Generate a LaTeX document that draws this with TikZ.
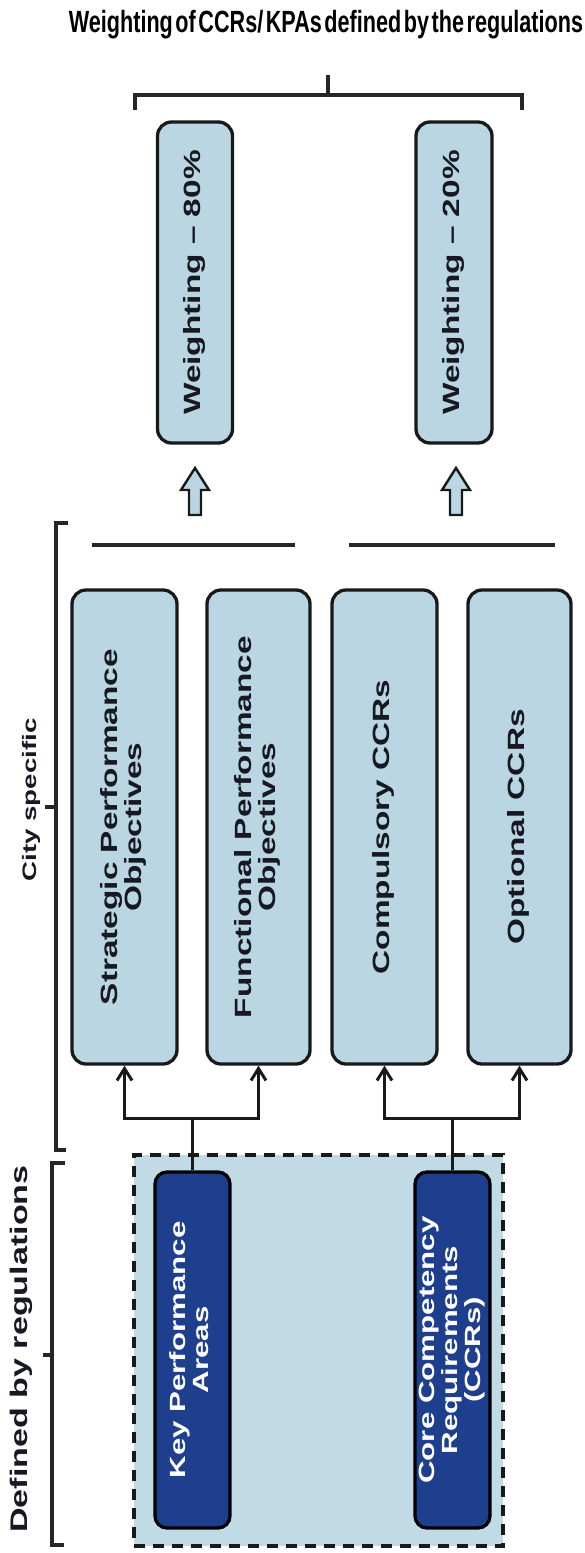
\documentclass[tikz,border=0pt]{standalone}
\usepackage{fontspec}
\setmainfont{Liberation Sans}
\usepackage{graphicx}
\usetikzlibrary{arrows.meta}

\definecolor{boxblue}{RGB}{185,214,226}
\definecolor{regblue}{RGB}{192,219,229}
\definecolor{navyfill}{RGB}{30,62,142}
\definecolor{inkdark}{RGB}{22,24,34}

% text set upright along the column, stretched along its reading direction
\newcommand{\sidetext}[1]{\rotatebox{90}{\scalebox{1.42}[1]{\begin{tabular}{@{}c@{}}#1\end{tabular}}}}

\tikzset{
  lightbox/.style={draw=black!90, line width=3.3pt, rounded corners=14pt, fill=boxblue,
    inner sep=0pt, text=inkdark, font=\fontsize{23.5}{23}\selectfont\bfseries},
  darkbox/.style={draw=black, line width=3.3pt, rounded corners=12pt, fill=navyfill,
    inner sep=0pt, text=white, font=\fontsize{22}{23}\selectfont\bfseries},
  regbox/.style={draw=black!90, line width=4.2pt, dash pattern=on 11pt off 8pt, fill=regblue,
    inner sep=0pt},
  bracketline/.style={line width=3.3pt, draw=black!85},
  barline/.style={line width=4pt, draw=black!85},
  conn/.style={line width=3pt, draw=black!90},
  tipped/.style={-{Straight Barb[length=12pt,width=15pt]}},
  hollow/.style={draw=black!90, line width=2.4pt, fill=boxblue, line join=miter},
  sidelabel/.style={inner sep=0pt, text=inkdark},
  titletext/.style={inner sep=0pt, text=black, font=\fontsize{21.6}{24}\selectfont\bfseries}
}

\begin{document}
\begin{tikzpicture}[x=1pt, y=-1pt]
\useasboundingbox (0,0) rectangle (585,1553);

% heading and its brace
\node[titletext, anchor=base] (title) at (326,32)
  {\scalebox{1}[1.42]{\spaceskip=0.12em Weighting of CCRs/ KPAs defined by the regulations}};
\draw[bracketline] (135,110) -- (135,95) -- (522,95) -- (522,110)
                   (328,95) -- (328,75);

% weightings
\node[lightbox, minimum width=75pt, minimum height=321pt] (w80) at (195,282.5) {\sidetext{Weighting – 80\%}};
\node[lightbox, minimum width=76pt, minimum height=321pt] (w20) at (454,282.5) {\sidetext{Weighting – 20\%}};

% hollow block arrows
\draw[hollow] (189,515) -- (189,490) -- (181,490) -- (195,468) -- (209,490) -- (201,490) -- (201,515) -- cycle;
\draw[hollow] (450,515) -- (450,490) -- (442,490) -- (456,468) -- (470,490) -- (462,490) -- (462,515) -- cycle;

% group bars
\draw[barline] (92,545) -- (295,545);
\draw[barline] (349,545) -- (555,545);

% city specific brace and label
\draw[bracketline] (68,523) -- (56,523) -- (56,1150) -- (66,1150)
                   (56,807) -- (45,807);
\node[sidelabel, font=\fontsize{19.5}{22}\selectfont\bfseries] (city) at (32,800) {\sidetext{City specific}};

% city specific objectives and requirements
\node[lightbox, minimum width=105pt, minimum height=474pt] (sp) at (124.5,827) {\sidetext{Strategic Performance\\Objectives}};
\node[lightbox, minimum width=103pt, minimum height=474pt] (fp) at (258.5,827) {\sidetext{Functional Performance\\Objectives}};
\node[lightbox, minimum width=105pt, minimum height=474pt] (cc) at (384.5,827) {\sidetext{Compulsory CCRs}};
\node[lightbox, minimum width=103pt, minimum height=474pt] (oc) at (519.5,827) {\sidetext{Optional CCRs}};

% regulation area
\node[regbox, minimum width=369pt, minimum height=391pt] (reg) at (318.5,1350.5) {};
\node[darkbox, minimum width=75pt, minimum height=356pt] (kpa) at (192.5,1350) {\sidetext{Key Performance\\Areas}};
\node[darkbox, minimum width=75pt, minimum height=356pt] (ccr) at (452.5,1350) {\sidetext{Core Competency\\Requirements\\(CCRs)}};

% defined by regulations brace and label
\draw[bracketline] (65,1163) -- (52,1163) -- (52,1545) -- (64,1545)
                   (52,1355) -- (43,1355);
\node[sidelabel, font=\fontsize{24}{26}\selectfont\bfseries] (defreg) at (22,1349) {\sidetext{Defined by regulations}};

% branching connectors
\coordinate (kj) at (192.5,1118);
\coordinate (cj) at (452.5,1118);
\draw[conn] (kpa.north) -- (kj);
\draw[conn, tipped] (kj) -| (sp.south);
\draw[conn, tipped] (kj) -| (fp.south);
\draw[conn] (ccr.north) -- (cj);
\draw[conn, tipped] (cj) -| (cc.south);
\draw[conn, tipped] (cj) -| (oc.south);
\end{tikzpicture}
\end{document}
